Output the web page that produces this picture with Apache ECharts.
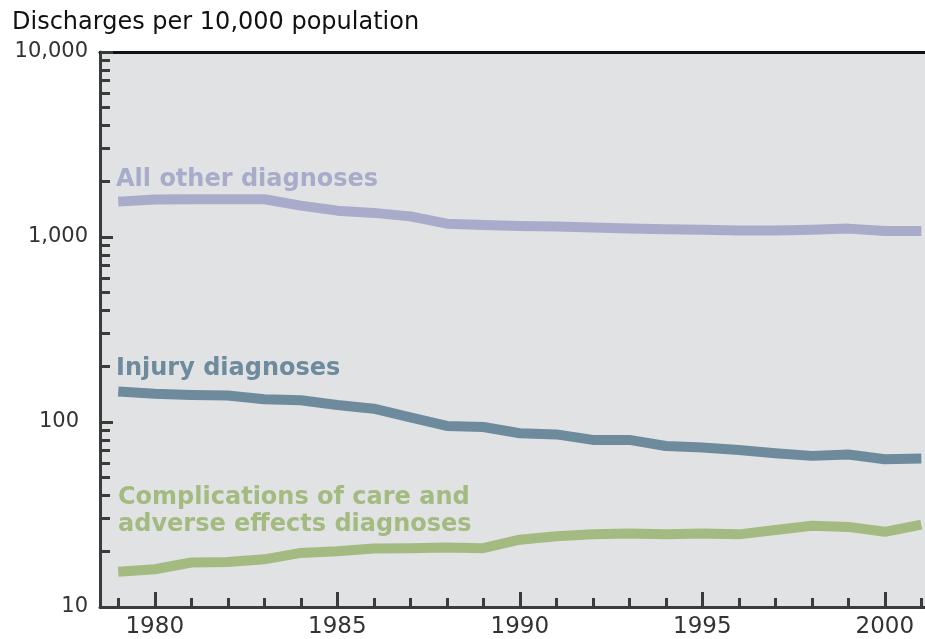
<!DOCTYPE html>
<html>
<head>
<meta charset="utf-8">
<script src="https://cdn.jsdelivr.net/npm/echarts@6/dist/echarts.min.js"></script>
<style>html,body{margin:0;padding:0;background:#fff;}#c{width:925px;height:639px;}</style>
</head>
<body>
<div id="c"></div>
<script>
const years = [1979,1980,1981,1982,1983,1984,1985,1986,1987,1988,1989,1990,1991,1992,1993,1994,1995,1996,1997,1998,1999,2000,2001];
const allOther = [1553,1595,1600,1600,1600,1477,1388,1350,1293,1181,1160,1145,1140,1125,1110,1100,1096,1083,1083,1096,1110,1077,1077];
const injury = [146,142,140,139,132.6,131,123.5,118,106,95.2,94,86.9,85.7,80,80,74.2,72.7,70.6,67.8,65.6,66.7,62.9,63.4];
const complications = [15.5,16.0,17.4,17.5,18.1,19.6,20.0,20.7,20.8,21.0,20.8,23.1,24.1,24.7,25.0,24.7,25.0,24.7,26.1,27.5,27.1,25.5,27.9];
const xMajorTicks = [1980,1985,1990,1995,2000];
const yMajorTicks = [10,100,1000,10000];
const yTickLabels = {10:'10',100:'100',1000:'1,000',10000:'10,000'};
const yMinorTicks = [20,30,40,50,60,70,80,90,200,300,400,500,600,700,800,900,2000,3000,4000,5000,6000,7000,8000,9000];
const titleText = 'Discharges per 10,000 population';
const seriesLabelLines = [['All other diagnoses'],['Injury diagnoses'],['Complications of care and','adverse effects diagnoses']];
const colors = ['#a8acca','#6d8b9c','#a3bb80'];

const font = 'DejaVu Sans, Verdana, sans-serif';
const axisColor = '#3a3c3c';
const pair = arr => years.map((y,i)=>[y,arr[i]]);

function label(text, x, y, color){
  return {type:'text',x:x,y:y,z:10,style:{text:text,font:'bold 24px '+font,fill:color,textVerticalAlign:'middle',verticalAlign:'middle'}};
}

const chart = echarts.init(document.getElementById('c'), null, {renderer:'canvas'});
chart.setOption({
  animation:false,
  backgroundColor:'#ffffff',
  grid:{left:100,top:52,right:0,bottom:31,show:true,backgroundColor:'#e1e2e4',borderWidth:0},
  xAxis:[
    {type:'value',min:1978.5,max:2001.1,position:'bottom',
     axisLine:{show:true,lineStyle:{color:axisColor,width:3}},
     axisTick:{show:true,inside:true,length:15,customValues:xMajorTicks,lineStyle:{color:axisColor,width:3}},
     axisLabel:{show:true,customValues:xMajorTicks,margin:9,fontFamily:font,fontSize:23,color:'#333',formatter:v=>String(v)},
     splitLine:{show:false}},
    {type:'value',min:1978.5,max:2001.1,position:'bottom',
     axisLine:{show:false},
     axisTick:{show:true,inside:true,length:9,customValues:years,lineStyle:{color:axisColor,width:3}},
     axisLabel:{show:false},splitLine:{show:false}},
    {type:'value',min:1978.5,max:2001.1,position:'top',
     axisLine:{show:true,lineStyle:{color:'#111',width:3}},
     axisTick:{show:false},axisLabel:{show:false},splitLine:{show:false}}
  ],
  yAxis:[
    {type:'log',logBase:10,min:10,max:10000,position:'left',
     axisLine:{show:true,lineStyle:{color:axisColor,width:3}},
     axisTick:{show:true,inside:true,length:13,customValues:yMajorTicks,lineStyle:{color:axisColor,width:3}},
     axisLabel:{show:true,customValues:yMajorTicks,margin:12,fontFamily:font,fontSize:21,color:'#333',
       formatter:v=>{const t=yTickLabels[Math.round(v)]||String(v);return Math.round(v)===100?'{p|'+t+'}':t;},
       rich:{p:{fontFamily:font,fontSize:21,color:'#333',padding:[0,9,0,0]}}},
     splitLine:{show:false}},
    {type:'log',logBase:10,min:10,max:10000,position:'left',
     axisLine:{show:false},
     axisTick:{show:true,inside:true,length:10,customValues:yMinorTicks,lineStyle:{color:axisColor,width:3}},
     axisLabel:{show:false},splitLine:{show:false}}
  ],
  series:[
    {type:'line',name:seriesLabelLines[0][0],data:pair(allOther),showSymbol:false,symbol:'none',lineStyle:{color:colors[0],width:10,cap:'butt',join:'round'},z:3},
    {type:'line',name:seriesLabelLines[1][0],data:pair(injury),showSymbol:false,symbol:'none',lineStyle:{color:colors[1],width:10,cap:'butt',join:'round'},z:3},
    {type:'line',name:seriesLabelLines[2].join(' '),data:pair(complications),showSymbol:false,symbol:'none',lineStyle:{color:colors[2],width:10,cap:'butt',join:'round'},z:3}
  ],
  graphic:[
    {type:'text',x:12,y:23,z:10,style:{text:titleText,font:'normal 24px '+font,fill:'#111',verticalAlign:'middle'}},
    label(seriesLabelLines[0][0],116,180,colors[0]),
    label(seriesLabelLines[1][0],116,369,colors[1]),
    label(seriesLabelLines[2][0],118,498,colors[2]),
    label(seriesLabelLines[2][1],118,525,colors[2])
  ]
});
</script>
</body>
</html>
